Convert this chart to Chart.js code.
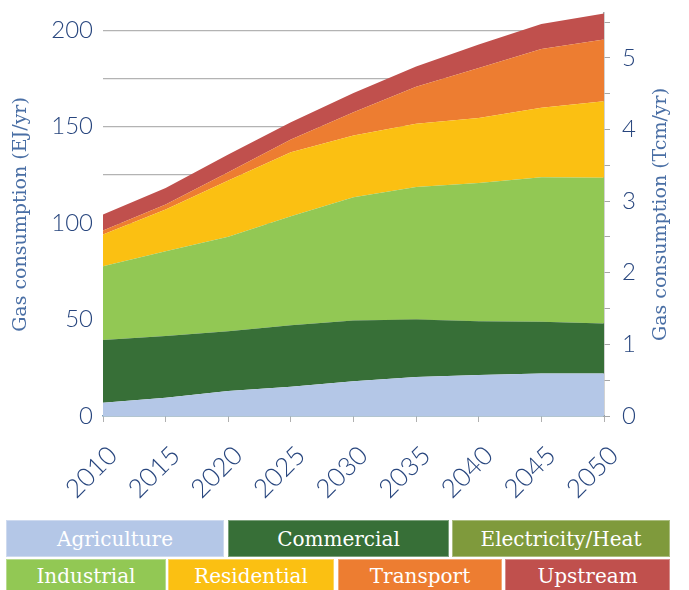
<!DOCTYPE html>
<html>
<head>
<meta charset="utf-8">
<script src="https://cdn.jsdelivr.net/npm/chart.js@4"></script>
<style>
  html, body { margin: 0; padding: 0; background: #ffffff; }
  #wrap { position: absolute; left: 0; top: 0; width: 689px; height: 505px; }
  #legend { position: absolute; left: 0; top: 0; width: 689px; height: 590px; pointer-events: none; }
  .lg { position: absolute; box-sizing: border-box; color: #ffffff; font-family: "DejaVu Serif", serif; font-size: 20px; display: flex; align-items: center; justify-content: center; border: 1px solid rgba(255,255,255,0.35); }
</style>
</head>
<body>
<div id="wrap"><canvas id="c"></canvas></div>
<div id="legend"></div>
<script>
const years = ['2010','2015','2020','2025','2030','2035','2040','2045','2050'];
const seriesNames = ['Agriculture','Commercial','Electricity/Heat','Industrial','Residential','Transport','Upstream'];
const seriesColors = ['#b4c7e7','#376f37','#7f9a3c','#92c854','#fbc012','#ed7d31','#c0504d'];

const agriculture    = [6.9, 9.5, 13.0, 15.2, 18.0, 20.2, 21.2, 22.1, 22.1];
const commercial     = [32.5, 32.0, 31.0, 31.8, 31.5, 29.9, 28.0, 26.8, 25.9];
const electricityHeat= [0, 0, 0, 0, 0, 0, 0, 0, 0];
const industrial     = [38.3, 44.0, 49.0, 56.6, 64.0, 68.6, 71.7, 74.9, 75.5];
const residential    = [16.4, 21.6, 29.1, 33.2, 32.0, 32.8, 33.7, 36.0, 39.7];
const transport      = [2.1, 2.6, 4.3, 6.6, 12.0, 19.2, 25.9, 30.5, 32.0];
const upstream       = [8.3, 8.6, 9.2, 8.9, 10.0, 10.6, 12.1, 13.0, 13.5];

const leftTickValues = [0, 50, 100, 150, 200];
const rightTickValues = [0, 1, 2, 3, 4, 5];
const leftTitle = 'Gas consumption (EJ/yr)';
const rightTitle = 'Gas consumption (Tcm/yr)';

const seriesData = [agriculture, commercial, electricityHeat, industrial, residential, transport, upstream];

const LEFT_MAX = 209;
const EJ_PER_TCM = 37.15;

const tickColor = '#28467e';
const titleColor = '#4a6fa5';

const datasets = seriesNames.map((name, i) => ({
  label: name,
  data: seriesData[i],
  backgroundColor: seriesColors[i],
  borderColor: seriesColors[i],
  borderWidth: 0,
  pointRadius: 0,
  tension: 0,
  fill: i === 0 ? 'origin' : '-1',
  yAxisID: 'y'
}));

const rightTitlePlugin = {
  id: 'rightTitle',
  afterDraw(chart) {
    const ctx = chart.ctx;
    const a = chart.chartArea;
    ctx.save();
    ctx.translate(661, (a.top + a.bottom) / 2);
    ctx.rotate(-Math.PI / 2);
    ctx.textAlign = 'center';
    ctx.textBaseline = 'middle';
    ctx.font = '19px "DejaVu Serif"';
    ctx.fillStyle = titleColor;
    ctx.fillText(rightTitle, 0, 0);
    ctx.restore();
  }
};

new Chart(document.getElementById('c'), {
  type: 'line',
  data: { labels: years, datasets },
  plugins: [rightTitlePlugin],
  options: {
    responsive: true,
    maintainAspectRatio: false,
    animation: false,
    layout: { padding: { top: 13, left: 0, right: 0, bottom: 0 } },
    plugins: { legend: { display: false }, tooltip: { enabled: false } },
    scales: {
      x: {
        type: 'category',
        offset: false,
        afterFit: s => { s.height = 89; s.paddingLeft = 0; s.paddingRight = 0; },
        border: { display: true, color: '#7a9fb6', width: 1.5 },
        grid: { display: true, drawOnChartArea: false, drawTicks: true, tickLength: 6, color: '#b0b0b0' },
        ticks: {
          minRotation: 45, maxRotation: 45, autoSkip: false,
          padding: 18,
          labelOffset: 10,
          color: tickColor,
          font: { family: 'Lato', size: 26, weight: 300 }
        }
      },
      y: {
        position: 'left',
        stacked: true,
        min: 0, max: LEFT_MAX,
        afterFit: s => { s.width = 103; s.paddingTop = 0; s.paddingBottom = 0; },
        border: { display: false },
        grid: { color: '#b3b3b3', lineWidth: 1.2, drawTicks: false },
        ticks: {
          stepSize: 25,
          includeBounds: false,
          padding: 10,
          color: tickColor,
          font: { family: 'Lato', size: 24, weight: 300 },
          callback: v => leftTickValues.includes(v) ? String(v) : ''
        },
        title: {
          display: true,
          text: leftTitle,
          color: titleColor,
          font: { family: 'DejaVu Serif', size: 19 },
          padding: { top: 10, bottom: 0 }
        }
      },
      y2: {
        position: 'right',
        min: 0, max: LEFT_MAX / EJ_PER_TCM,
        afterFit: s => { s.width = 85; s.paddingTop = 0; s.paddingBottom = 0; },
        border: { display: true, color: '#a6a6a6', width: 1.5 },
        grid: { drawOnChartArea: false, drawTicks: true, tickLength: 6, color: '#a6a6a6' },
        ticks: {
          stepSize: 0.5,
          includeBounds: false,
          padding: 12,
          color: tickColor,
          font: { family: 'Lato', size: 24, weight: 300 },
          callback: v => rightTickValues.includes(v) ? String(v) : ''
        }
      }
    }
  }
});

// HTML legend built from the series arrays
const legendRows = [
  { top: 520, height: 37, items: [0, 1, 2], lefts: [6, 228, 452], widths: [218, 221, 218] },
  { top: 559, height: 33, items: [3, 4, 5, 6], lefts: [6, 168, 338, 505], widths: [160, 166, 164, 165] }
];
const lg = document.getElementById('legend');
legendRows.forEach(row => {
  row.items.forEach((idx, k) => {
    const d = document.createElement('div');
    d.className = 'lg';
    d.style.left = row.lefts[k] + 'px';
    d.style.top = row.top + 'px';
    d.style.width = row.widths[k] + 'px';
    d.style.height = row.height + 'px';
    d.style.background = seriesColors[idx];
    d.textContent = seriesNames[idx];
    lg.appendChild(d);
  });
});
</script>
</body>
</html>
